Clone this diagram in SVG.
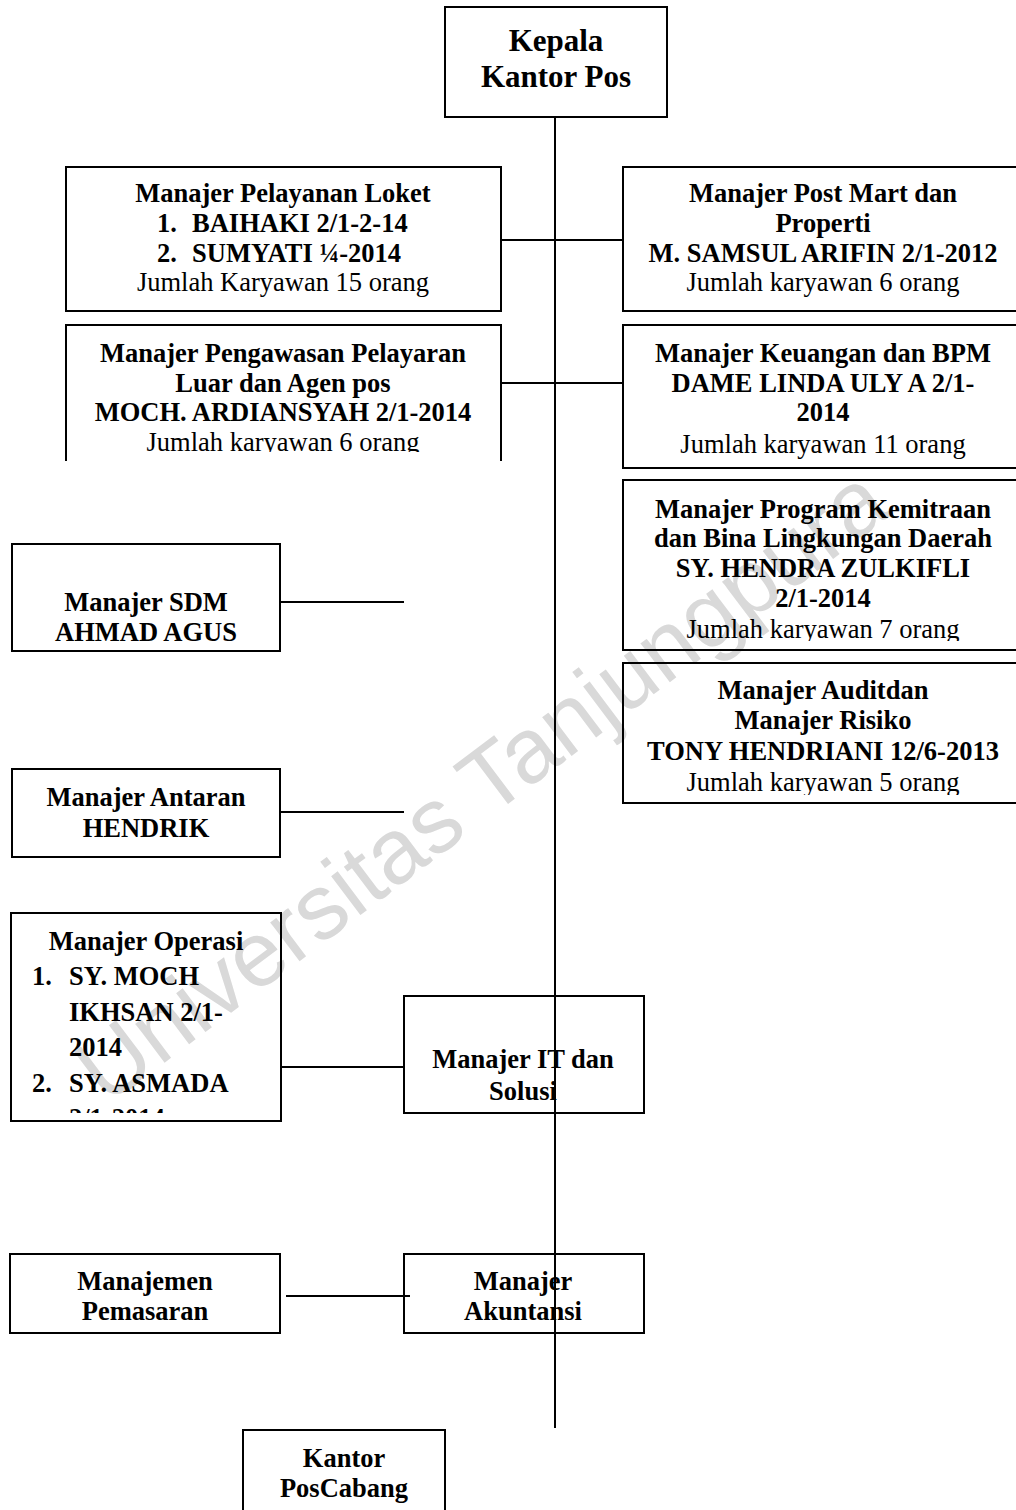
<svg xmlns="http://www.w3.org/2000/svg" width="1016" height="1510" viewBox="0 0 1016 1510">
<style>
.bg{fill:#fff}
.box{fill:none;stroke:#000;stroke-width:2}
.ln{stroke:#000;stroke-width:2;fill:none}
.t{font-family:"Liberation Serif","Times New Roman",serif;font-size:26.5px;font-weight:bold;text-anchor:middle;fill:#000}
.r{font-weight:normal}
.s{text-anchor:start}
.big{font-size:31px}
.wm{font-family:"Liberation Sans",Arial,sans-serif;font-size:92px;fill:#d9d9d9;text-anchor:middle}
</style>
<defs>
<clipPath id="cPeng"><rect x="66" y="325" width="436" height="127"/></clipPath>
<clipPath id="cKem"><rect x="623" y="480" width="400" height="161"/></clipPath>
<clipPath id="cAud"><rect x="623" y="663" width="400" height="132"/></clipPath>
<clipPath id="cOps"><rect x="11" y="913" width="270" height="200"/></clipPath>
</defs>
<rect class="bg" width="1016" height="1510"/>
<text class="wm" x="500" y="810" transform="rotate(-37 500 810)">Universitas Tanjungpura</text>

<g id="connectors">
<line class="ln" x1="555" y1="117" x2="555" y2="1428"/>
<line class="ln" x1="501" y1="240" x2="623" y2="240"/>
<line class="ln" x1="501" y1="383" x2="623" y2="383"/>
<line class="ln" x1="280" y1="602" x2="404" y2="602"/>
<line class="ln" x1="280" y1="812" x2="404" y2="812"/>
<line class="ln" x1="281" y1="1067" x2="404" y2="1067"/>
<line class="ln" x1="286" y1="1296" x2="410" y2="1296"/>
</g>

<g id="kepala">
<rect class="box" x="445" y="7" width="222" height="110"/>
<text class="t big" x="556" y="51">Kepala</text>
<text class="t big" x="556" y="87">Kantor Pos</text>
</g>

<g id="pelayanan-loket">
<rect class="box" x="66" y="167" width="435" height="144"/>
<text class="t" x="283" y="202">Manajer Pelayanan Loket</text>
<text class="t s" x="157" y="232">1.</text><text class="t s" x="192" y="232">BAIHAKI 2/1-2-14</text>
<text class="t s" x="157" y="262">2.</text><text class="t s" x="192" y="262">SUMYATI ¼-2014</text>
<text class="t r" x="283" y="291">Jumlah Karyawan 15 orang</text>
</g>

<g id="post-mart">
<rect class="box" x="623" y="167" width="400" height="144"/>
<text class="t" x="823" y="202">Manajer Post Mart dan</text>
<text class="t" x="823" y="232">Properti</text>
<text class="t" x="823" y="262">M. SAMSUL ARIFIN 2/1-2012</text>
<text class="t r" x="823" y="291">Jumlah karyawan 6 orang</text>
</g>

<g id="pengawasan">
<path class="box" d="M66,461 V325 H501 V461"/>
<g clip-path="url(#cPeng)">
<text class="t" x="283" y="362">Manajer Pengawasan Pelayaran</text>
<text class="t" x="283" y="392">Luar dan Agen pos</text>
<text class="t" x="283" y="421">MOCH. ARDIANSYAH 2/1-2014</text>
<text class="t r" x="283" y="451">Jumlah karyawan 6 orang</text>
</g>
</g>

<g id="keuangan">
<rect class="box" x="623" y="325" width="400" height="143"/>
<text class="t" x="823" y="362">Manajer Keuangan dan BPM</text>
<text class="t" x="823" y="392">DAME LINDA ULY A 2/1-</text>
<text class="t" x="823" y="421">2014</text>
<text class="t r" x="823" y="453">Jumlah karyawan 11 orang</text>
</g>

<g id="kemitraan">
<rect class="box" x="623" y="480" width="400" height="170"/>
<g clip-path="url(#cKem)">
<text class="t" x="823" y="518">Manajer Program Kemitraan</text>
<text class="t" x="823" y="547">dan Bina Lingkungan Daerah</text>
<text class="t" x="823" y="577">SY. HENDRA ZULKIFLI</text>
<text class="t" x="823" y="607">2/1-2014</text>
<text class="t r" x="823" y="638">Jumlah karyawan 7 orang</text>
</g>
</g>

<g id="audit">
<rect class="box" x="623" y="663" width="400" height="140"/>
<g clip-path="url(#cAud)">
<text class="t" x="823" y="699">Manajer Auditdan</text>
<text class="t" x="823" y="729">Manajer Risiko</text>
<text class="t" x="823" y="760">TONY HENDRIANI 12/6-2013</text>
<text class="t r" x="823" y="791">Jumlah karyawan 5 orang</text>
</g>
</g>

<g id="sdm">
<rect class="box" x="12" y="544" width="268" height="107"/>
<text class="t" x="146" y="611">Manajer SDM</text>
<text class="t" x="146" y="641">AHMAD AGUS</text>
</g>

<g id="antaran">
<rect class="box" x="12" y="769" width="268" height="88"/>
<text class="t" x="146" y="806">Manajer Antaran</text>
<text class="t" x="146" y="837">HENDRIK</text>
</g>

<g id="operasi">
<rect class="box" x="11" y="913" width="270" height="208"/>
<g clip-path="url(#cOps)">
<text class="t" x="146" y="950">Manajer Operasi</text>
<text class="t s" x="32" y="985">1.</text><text class="t s" x="69" y="985">SY. MOCH</text>
<text class="t s" x="69" y="1021">IKHSAN 2/1-</text>
<text class="t s" x="69" y="1056">2014</text>
<text class="t s" x="32" y="1092">2.</text><text class="t s" x="69" y="1092">SY. ASMADA</text>
<text class="t s" x="69" y="1127">2/1-2014</text>
</g>
</g>

<g id="it-solusi">
<rect class="box" x="404" y="996" width="240" height="117"/>
<text class="t" x="523" y="1068">Manajer IT dan</text>
<text class="t" x="523" y="1100">Solusi</text>
</g>

<g id="pemasaran">
<rect class="box" x="10" y="1254" width="270" height="79"/>
<text class="t" x="145" y="1290">Manajemen</text>
<text class="t" x="145" y="1320">Pemasaran</text>
</g>

<g id="akuntansi">
<rect class="box" x="404" y="1254" width="240" height="79"/>
<text class="t" x="523" y="1290">Manajer</text>
<text class="t" x="523" y="1320">Akuntansi</text>
</g>

<g id="kantor-cabang">
<rect class="box" x="243" y="1430" width="202" height="90"/>
<text class="t" x="344" y="1467">Kantor</text>
<text class="t" x="344" y="1497">PosCabang</text>
</g>
</svg>
